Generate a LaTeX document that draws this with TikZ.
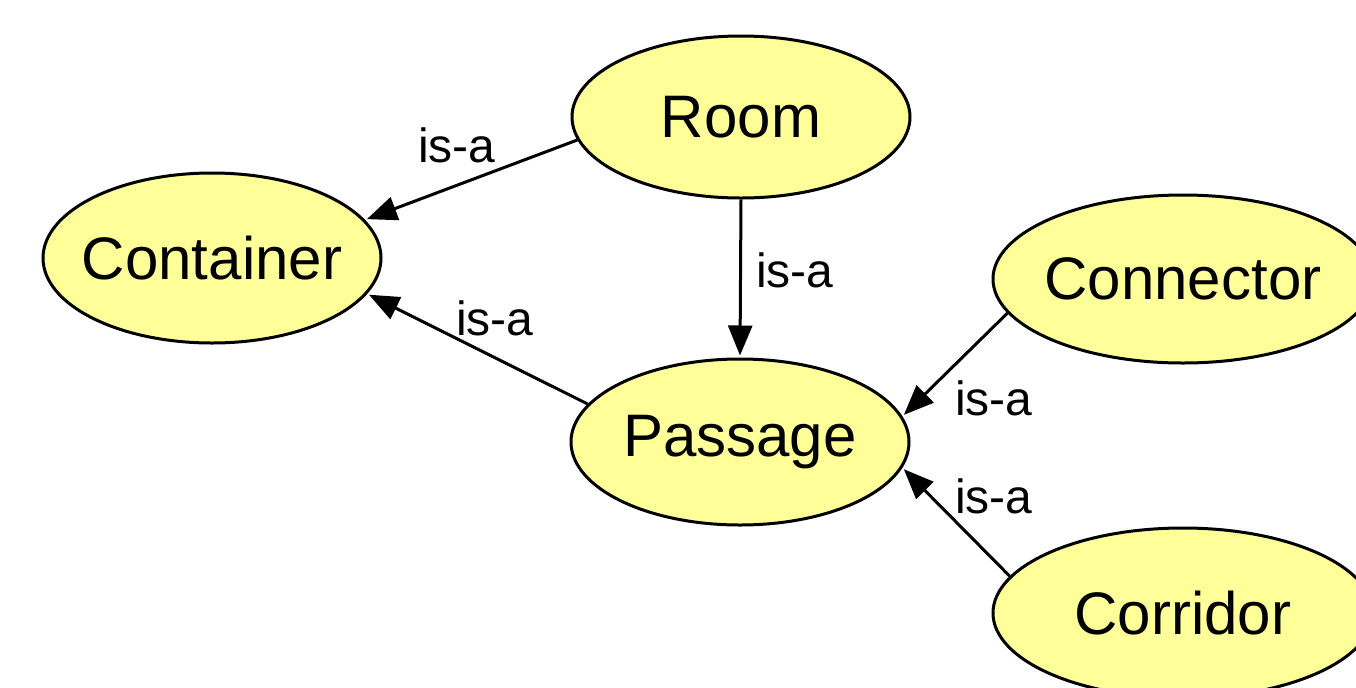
\documentclass[tikz,border=0pt]{standalone}
\usepackage{fontspec}
\setmainfont{Liberation Sans}
\usetikzlibrary{shapes.geometric,arrows.meta}
\definecolor{conceptfill}{HTML}{FFFF99}
\tikzset{
  concept/.style={ellipse, draw=black, line width=1.5pt, fill=conceptfill,
    inner xsep=-10pt, inner ysep=0pt, font=\fontsize{30}{36}\selectfont},
  isa/.style={-{Triangle[length=15pt,width=12pt]}, line width=1.5pt, shorten >=1pt},
  rel/.style={font=\fontsize{24}{29}\selectfont, inner sep=0pt}
}
\begin{document}
\begin{tikzpicture}[x=0.5pt,y=-0.5pt]
\useasboundingbox[clip] (0,0) rectangle (1356,687);
\fill[white] (0,0) rectangle (1356,687);

% concepts
\node[concept, minimum width=169pt, minimum height=81pt] (room) at (741,117) {Room};
\node[concept, minimum width=169pt, minimum height=85pt] (container) at (212,258) {Container};
\node[concept, minimum width=169pt, minimum height=83pt] (passage) at (740,442) {Passage};
\node[concept, minimum width=190pt, minimum height=84pt] (connector) at (1183,279) {Connector};
\node[concept, minimum width=190pt, minimum height=85pt] (corridor) at (1183,613) {Corridor};

% is-a relations
\draw[isa] (room.188) -- (container.14);
\draw[isa] (passage.166) -- (container.347);
\draw[isa] (room.south) -- (passage.north);
\draw[isa] (connector.191) -- (passage.9);
\draw[isa] (corridor.168) -- (passage.351);

% relation labels
\node[rel] (l1) at (457,145) {is-a};
\node[rel] (l2) at (495,318) {is-a};
\node[rel] (l3) at (795,270) {is-a};
\node[rel] (l4) at (994,398) {is-a};
\node[rel] (l5) at (994,496) {is-a};
\end{tikzpicture}
\end{document}
